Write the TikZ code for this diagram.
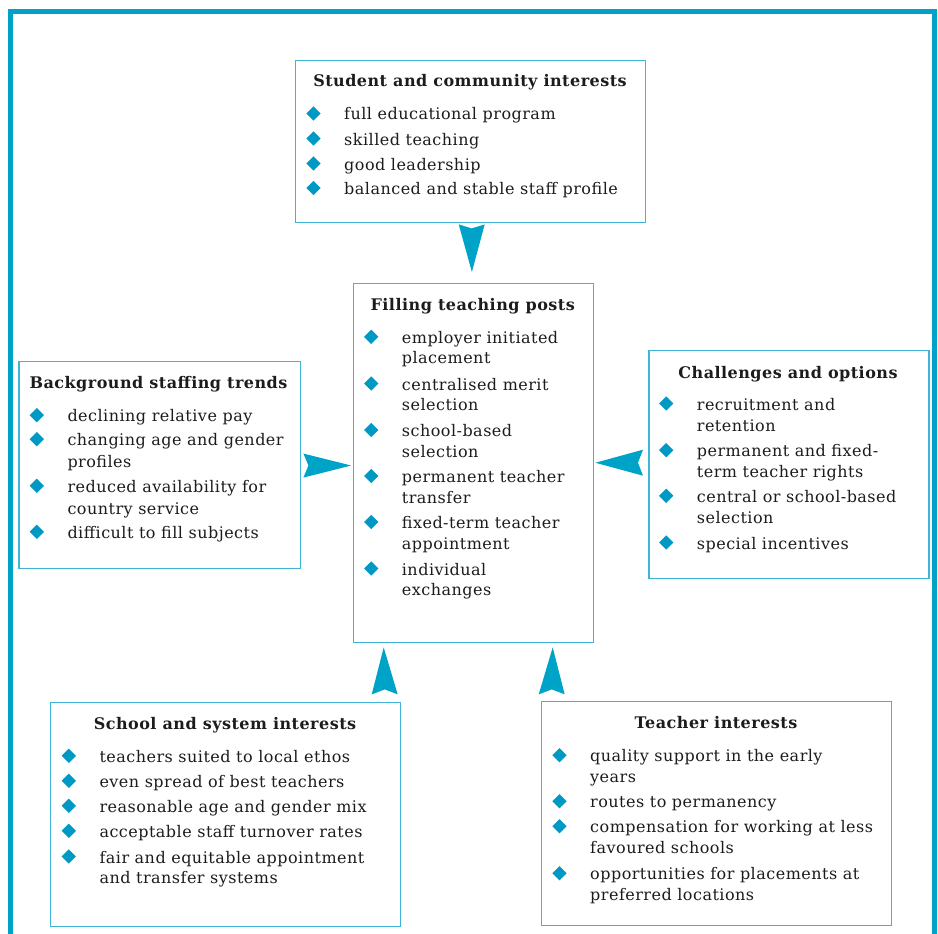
\documentclass[tikz,border=0pt]{standalone}
\usepackage{fontspec}
\setmainfont{DejaVu Serif}[LetterSpace=3]
\usetikzlibrary{calc,shapes.geometric}
\definecolor{frameblue}{HTML}{00A2C7}
\definecolor{boxline}{HTML}{3FB4D7}
\definecolor{bulblue}{HTML}{0099C4}
\definecolor{arrblue}{HTML}{00A3C8}
\definecolor{txt}{HTML}{1C1C1C}
\newcommand\bitem[4]{%
  \node[bul] (#1b) at (#2-30.5,#3-6.5) {};
  \node[itm] (#1) at (#2,#3) {#4};}
\newcommand\bcont[4]{\node[itm] (#1) at (#2,#3) {#4};}
\begin{document}
\begin{tikzpicture}[x=1pt,y=-1pt,
  box/.style={draw=boxline,line width=1.4pt,fill=white,inner sep=0pt,anchor=north west},
  ttl/.style={font=\fontsize{16}{19}\selectfont\bfseries,text=txt,anchor=base,inner sep=0pt},
  itm/.style={font=\fontsize{16}{19}\selectfont,text=txt,anchor=base west,inner sep=0pt},
  bul/.style={diamond,aspect=1,fill=bulblue,minimum size=14.5pt,inner sep=0pt},
  arr/.style={fill=arrblue,draw=none}]
\useasboundingbox (0,0) rectangle (938,934);
\fill[white] (0,0) rectangle (938,934);
% outer frame (open at the bottom)
\draw[frameblue,line width=5pt] (10.5,936) -- (10.5,11.5) -- (934.5,11.5) -- (934.5,936);

% boxes
\node[box,minimum width=350pt,minimum height=162pt] (student) at (295,60) {};
\node[box,minimum width=240pt,minimum height=358.7pt] (filling) at (352.7,283) {};
\node[box,minimum width=281.7pt,minimum height=207.3pt] (background) at (18.3,360.7) {};
\node[box,minimum width=280pt,minimum height=228pt] (challenges) at (648.3,350) {};
\node[box,minimum width=350pt,minimum height=224pt] (school) at (50,702) {};
\node[box,minimum width=350pt,minimum height=224pt] (teacher) at (541,701) {};

% Student and community interests
\node[ttl] (studentT) at (470,86.7) {Student and community interests};
\bitem{s1}{344}{120}{full educational program}
\bitem{s2}{344}{145}{skilled teaching}
\bitem{s3}{344}{170}{good leadership}
\bitem{s4}{344}{194.5}{balanced and stable staff profile}

% Filling teaching posts
\node[ttl] (fillingT) at (472.7,310) {Filling teaching posts};
\bitem{f1}{401.7}{343.3}{employer initiated}
\bcont{f1c}{401.7}{363.8}{placement}
\bitem{f2}{401.7}{390}{centralised merit}
\bcont{f2c}{401.7}{410.5}{selection}
\bitem{f3}{401.7}{436.5}{school-based}
\bcont{f3c}{401.7}{457}{selection}
\bitem{f4}{401.7}{482.5}{permanent teacher}
\bcont{f4c}{401.7}{503}{transfer}
\bitem{f5}{401.7}{528.5}{fixed-term teacher}
\bcont{f5c}{401.7}{549}{appointment}
\bitem{f6}{401.7}{575}{individual}
\bcont{f6c}{401.7}{595.5}{exchanges}

% Background staffing trends
\node[ttl] (backgroundT) at (158.5,388.3) {Background staffing trends};
\bitem{b1}{67.3}{421.7}{declining relative pay}
\bitem{b2}{67.3}{445.7}{changing age and gender}
\bcont{b2c}{67.3}{467.5}{profiles}
\bitem{b3}{67.3}{492.3}{reduced availability for}
\bcont{b3c}{67.3}{514}{country service}
\bitem{b4}{67.3}{538.3}{difficult to fill subjects}

% Challenges and options
\node[ttl] (challengesT) at (788,378.3) {Challenges and options};
\bitem{c1}{696.7}{410}{recruitment and}
\bcont{c1c}{696.7}{431}{retention}
\bitem{c2}{696.7}{456.7}{permanent and fixed-}
\bcont{c2c}{696.7}{477.7}{term teacher rights}
\bitem{c3}{696.7}{502.3}{central or school-based}
\bcont{c3c}{696.7}{523.3}{selection}
\bitem{c4}{696.7}{549}{special incentives}

% School and system interests
\node[ttl] (schoolT) at (225,729.7) {School and system interests};
\bitem{h1}{99.3}{762.3}{teachers suited to local ethos}
\bitem{h2}{99.3}{787.3}{even spread of best teachers}
\bitem{h3}{99.3}{812.3}{reasonable age and gender mix}
\bitem{h4}{99.3}{837.3}{acceptable staff turnover rates}
\bitem{h5}{99.3}{863}{fair and equitable appointment}
\bcont{h5c}{99.3}{883.7}{and transfer systems}

% Teacher interests
\node[ttl] (teacherT) at (716,728) {Teacher interests};
\bitem{t1}{590}{761.7}{quality support in the early}
\bcont{t1c}{590}{782.5}{years}
\bitem{t2}{590}{807.7}{routes to permanency}
\bitem{t3}{590}{832.7}{compensation for working at less}
\bcont{t3c}{590}{853.5}{favoured schools}
\bitem{t4}{590}{879.7}{opportunities for placements at}
\bcont{t4c}{590}{900.5}{preferred locations}

% arrows (kite shapes) pointing into the central box
\fill[arr] ($(student.south)+(-12,1)$) -- ($(student.south)+(1,5)$)
  -- ($(student.south)+(14,1)$) -- ($(filling.north)+(-1.5,-11)$) -- cycle;
\fill[arr] ($(background.east)+(2,-11.5)$) -- ($(background.east)+(7,0.5)$)
  -- ($(background.east)+(2,12.5)$) -- ($(filling.west)+(-1.5,2.5)$) -- cycle;
\fill[arr] ($(challenges.west)+(-5.3,-15)$) -- ($(challenges.west)+(-10.3,-2)$)
  -- ($(challenges.west)+(-5.3,11)$) -- ($(filling.east)+(1.3,-0.3)$) -- cycle;
\fill[arr] ($(filling.south)+(-101.7,51.3)$) -- ($(filling.south)+(-88.7,46.3)$)
  -- ($(filling.south)+(-75.7,51.3)$) -- ($(filling.south)+(-89.7,4.3)$) -- cycle;
\fill[arr] ($(filling.south)+(65.3,51.3)$) -- ($(filling.south)+(78.3,46.3)$)
  -- ($(filling.south)+(91.3,51.3)$) -- ($(filling.south)+(79.3,4.3)$) -- cycle;
\end{tikzpicture}
\end{document}
